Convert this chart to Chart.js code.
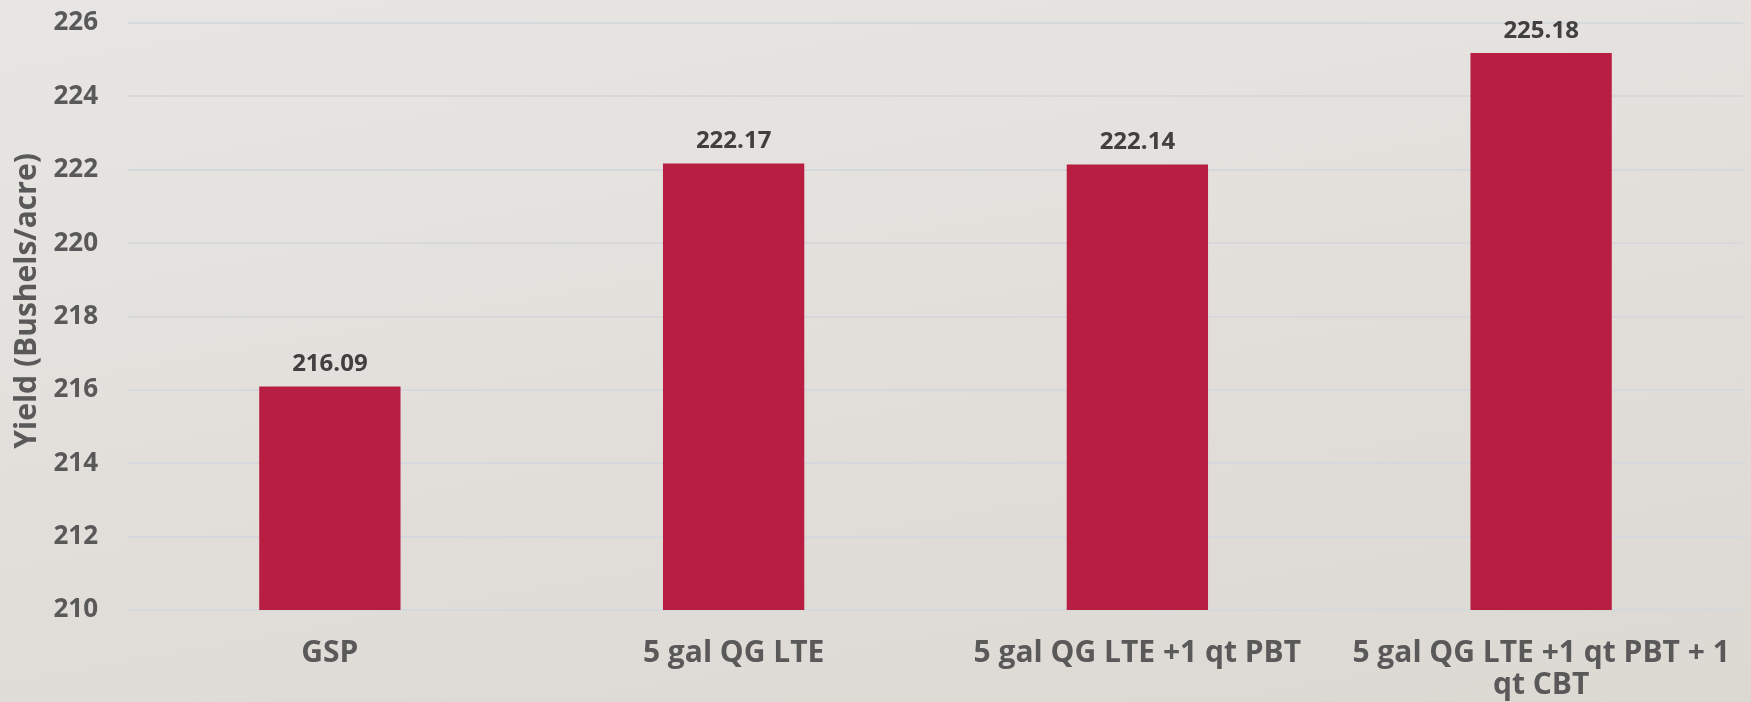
<!DOCTYPE html>
<html>
<head>
<meta charset="utf-8">
<script src="https://cdn.jsdelivr.net/npm/chart.js@4"></script>
<style>
  html, body { margin: 0; padding: 0; }
  body {
    width: 1751px; height: 702px; overflow: hidden;
    background: linear-gradient(170deg, #e8e6e4 0%, #e2dfdb 50%, #dcd9d3 100%);
  }
  #wrap { position: relative; width: 1751px; height: 702px; }
</style>
</head>
<body>
<div id="wrap"><canvas id="chart"></canvas></div>
<script>
(function() {
  'use strict';
  // カテゴリ
  const categories = [
    'GSP',
    '5 gal QG LTE',
    '5 gal QG LTE +1 qt PBT',
    ['5 gal QG LTE +1 qt PBT + 1', 'qt CBT']
  ];
  // 収量
  const yieldValues = [216.09, 222.17, 222.14, 225.18];
  // 値ラベル
  const valueLabels = ['216.09', '222.17', '222.14', '225.18'];
  // 目盛り
  const yMin = 210;
  const yMax = 226;
  const yStep = 2;

  const fontFamily = '"Open Sans", Lato, sans-serif';

  // 棒の上に値を描く
  const valueLabelPlugin = {
    id: 'valueLabel',
    afterDatasetsDraw(chart) {
      const ctx = chart.ctx;
      const meta = chart.getDatasetMeta(0);
      ctx.save();
      ctx.font = 'bold 24px ' + fontFamily;
      ctx.fillStyle = '#404040';
      ctx.textAlign = 'center';
      ctx.textBaseline = 'middle';
      meta.data.forEach(function(bar, i) {
        ctx.fillText(valueLabels[i], bar.x, bar.y - 22);
      });
      ctx.restore();
    }
  };

  new Chart(document.getElementById('chart').getContext('2d'), {
    type: 'bar',
    data: {
      labels: categories,
      datasets: [{
        data: yieldValues,
        backgroundColor: '#b81e41',
        barPercentage: 0.7,
        categoryPercentage: 0.5
      }]
    },
    options: {
      responsive: true,
      maintainAspectRatio: false,
      animation: false,
      layout: { padding: { top: 23, right: 8, left: 0, bottom: 0 } },
      plugins: {
        legend: { display: false },
        tooltip: { enabled: false }
      },
      scales: {
        x: {
          grid: { display: false },
          border: { display: false },
          ticks: {
            color: '#595959',
            font: { family: fontFamily, size: 30, weight: 'bold', lineHeight: 1.05 },
            padding: 20,
            maxRotation: 0,
            autoSkip: false
          },
          afterFit(scale) { scale.height = 92; }
        },
        y: {
          min: yMin,
          max: yMax,
          grid: { color: '#d6d9dc', lineWidth: 2, drawTicks: false },
          border: { display: false },
          ticks: {
            stepSize: yStep,
            color: '#595959',
            font: { family: fontFamily, size: 26, weight: 'bold' },
            padding: 30
          },
          title: {
            display: true,
            text: '    Yield (Bushels/acre)',
            color: '#595959',
            font: { family: fontFamily, size: 30, weight: 'bold', lineHeight: 1.0 },
            padding: { top: 12, bottom: 0 }
          },
          afterFit(scale) {
            scale.width = 128;
            scale.paddingTop = 0;
            scale.paddingBottom = 0;
          }
        }
      }
    },
    plugins: [valueLabelPlugin]
  });
})();
</script>
</body>
</html>
